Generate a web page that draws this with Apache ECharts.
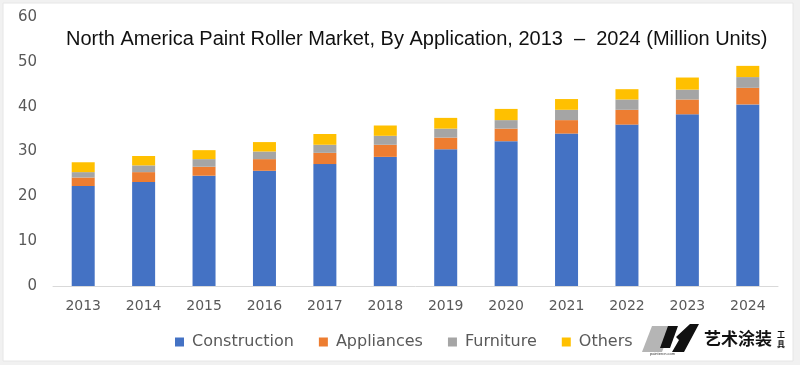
<!DOCTYPE html>
<html>
<head>
<meta charset="utf-8">
<script src="https://cdn.jsdelivr.net/npm/echarts@6/dist/echarts.min.js"></script>
<style>
html,body{margin:0;padding:0;background:#fff;}
#chart{width:800px;height:365px;}
</style>
</head>
<body>
<div id="chart"></div>
<script>
const years = ['2013','2014','2015','2016','2017','2018','2019','2020','2021','2022','2023','2024'];
const construction = [22.3, 23.2, 24.6, 25.7, 27.2, 28.8, 30.5, 32.3, 34.0, 36.0, 38.3, 40.5];
const appliances   = [1.9, 2.2, 2.0, 2.6, 2.5, 2.7, 2.6, 2.8, 3.0, 3.3, 3.3, 3.7];
const furniture    = [1.2, 1.5, 1.7, 1.7, 1.8, 2.0, 2.0, 1.9, 2.3, 2.3, 2.2, 2.4];
const others       = [2.2, 2.1, 2.0, 2.1, 2.4, 2.3, 2.4, 2.5, 2.4, 2.3, 2.7, 2.5];
const seriesNames = ['Construction','Appliances','Furniture','Others'];
const yTicks = [0, 10, 20, 30, 40, 50, 60];
const titleText = 'North America Paint Roller Market, By Application, 2013  \u2013  2024 (Million Units)';

const colors = ['#4472C4','#ED7D31','#A5A5A5','#FFC000'];
const dataSets = [construction, appliances, furniture, others];

const chart = echarts.init(document.getElementById('chart'), null, {renderer:'canvas'});
chart.setOption({
  animation:false,
  backgroundColor:'#f1f1f1',
  color: colors,
  graphic:[
    {type:'rect', z:-10, shape:{x:3,y:3,width:790,height:358}, style:{fill:'#ffffff', stroke:'#e6e6e6', lineWidth:1}},
    {type:'text', left:66, top:29, style:{text:titleText, font:'20px "Liberation Sans", Arial, sans-serif', fill:'#111'}},
    {type:'polygon', shape:{points:[[652,326],[672,326],[662,352],[642,352]]}, style:{fill:'#b5b5b5'}},
    {type:'polygon', shape:{points:[[668,326],[678,326],[670,348],[660,348]]}, style:{fill:'#111'}},
    {type:'polygon', shape:{points:[[690,324],[699,324],[684,352],[672,352],[679,340],[676,337]]}, style:{fill:'#111'}},
    {type:'text', left:650, top:352, style:{text:'paintercn.com', font:'4px sans-serif', fill:'#333'}},
    {type:'text', left:704, top:330, style:{text:'艺术涂装', font:'bold 17px "Noto Sans CJK SC", sans-serif', fill:'#111'}},
    {type:'text', left:777, top:329, style:{text:'工\n具', font:'bold 8px "Noto Sans CJK SC", sans-serif', fill:'#111', lineHeight:10}}
  ],
  legend:{
    data: seriesNames,
    left:170, top:329,
    itemWidth:9, itemHeight:9, itemGap:25, icon:'rect',
    textStyle:{color:'#595959', fontSize:16, fontFamily:'"DejaVu Sans", sans-serif', padding:[0,0,0,3]}
  },
  grid:{left:53, right:22, top:17, bottom:79, containLabel:false},
  xAxis:{
    type:'category', data:years,
    axisLine:{show:true, lineStyle:{color:'#d9d9d9', width:1}},
    axisTick:{show:false},
    axisLabel:{color:'#595959', fontSize:14, fontFamily:'"DejaVu Sans", sans-serif', margin:13}
  },
  yAxis:{
    type:'value', min:yTicks[0], max:yTicks[yTicks.length-1], interval:10,
    axisLine:{show:false}, axisTick:{show:false},
    splitLine:{show:false},
    axisLabel:{color:'#595959', fontSize:15, fontFamily:'"DejaVu Sans", sans-serif', margin:16}
  },
  series: seriesNames.map((n,i)=>({
    name:n, type:'bar', stack:'total', barWidth:23,
    data:dataSets[i],
    itemStyle:{color:colors[i]}
  }))
});
</script>
</body>
</html>
